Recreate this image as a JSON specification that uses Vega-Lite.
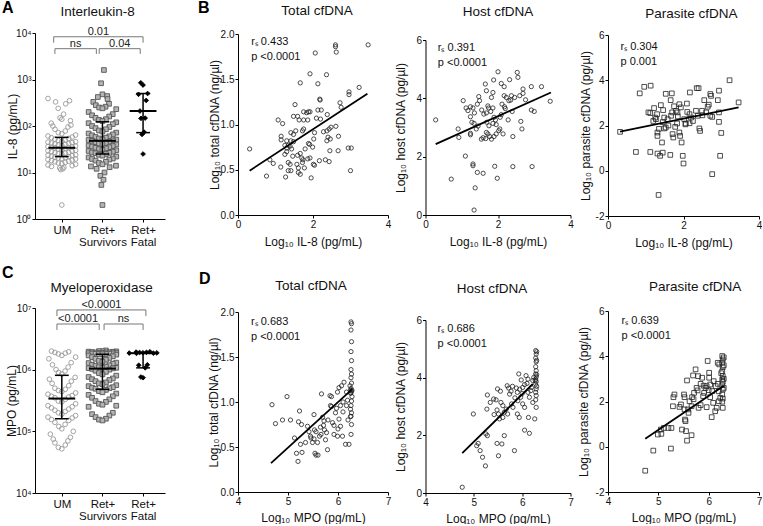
{
"$schema": "https://vega.github.io/schema/vega-lite/v6.json",
"padding": {"left": 2, "top": 0, "right": 0, "bottom": 0},
"config": {
 "font": "Liberation Sans",
 "view": {"stroke": null},
 "axis": {"grid": false, "domainColor": "#000", "tickColor": "#000", "labelColor": "#111", "titleColor": "#111", "labelFontSize": 10, "titleFontSize": 12, "titleFontWeight": "normal", "tickSize": 3, "labelPadding": 1, "labelFlush": false, "labelOverlap": false, "domainWidth": 1, "tickWidth": 1},
 "text": {"color": "#111"}
},
"datasets": {
 "il8": [
  {"g":1,"v":390},{"g":1,"v":350},{"g":1,"v":330},{"g":1,"v":300},{"g":1,"v":240},{"g":1,"v":180},{"g":1,"v":150},{"g":1,"v":140},{"g":1,"v":130},{"g":1,"v":115},{"g":1,"v":105},{"g":1,"v":100},{"g":1,"v":95},{"g":1,"v":85},{"g":1,"v":78},{"g":1,"v":72},{"g":1,"v":68},{"g":1,"v":64},{"g":1,"v":61},{"g":1,"v":58},
  {"g":1,"v":56},{"g":1,"v":54},{"g":1,"v":52},{"g":1,"v":50},{"g":1,"v":49},{"g":1,"v":47},{"g":1,"v":46},{"g":1,"v":45},{"g":1,"v":44},{"g":1,"v":43},{"g":1,"v":42},{"g":1,"v":41},{"g":1,"v":40},{"g":1,"v":39},{"g":1,"v":38},{"g":1,"v":37},{"g":1,"v":36},{"g":1,"v":35.5},{"g":1,"v":35},{"g":1,"v":34.5},
  {"g":1,"v":34},{"g":1,"v":33},{"g":1,"v":32},{"g":1,"v":31},{"g":1,"v":30},{"g":1,"v":29.5},{"g":1,"v":29},{"g":1,"v":28},{"g":1,"v":27},{"g":1,"v":26.5},{"g":1,"v":26},{"g":1,"v":25.5},{"g":1,"v":25},{"g":1,"v":24},{"g":1,"v":23.5},{"g":1,"v":23},{"g":1,"v":22.5},{"g":1,"v":22},{"g":1,"v":21.5},{"g":1,"v":21},
  {"g":1,"v":20.5},{"g":1,"v":20},{"g":1,"v":19.5},{"g":1,"v":19},{"g":1,"v":18.5},{"g":1,"v":18},{"g":1,"v":17.5},{"g":1,"v":17},{"g":1,"v":16.5},{"g":1,"v":16},{"g":1,"v":15.5},{"g":1,"v":15},{"g":1,"v":14.5},{"g":1,"v":14},{"g":1,"v":13.5},{"g":1,"v":13},{"g":1,"v":12.5},{"g":1,"v":12},{"g":1,"v":11.5},{"g":1,"v":2},
  {"g":2,"v":1600},{"g":2,"v":830},{"g":2,"v":480},{"g":2,"v":440},{"g":2,"v":420},{"g":2,"v":380},{"g":2,"v":330},{"g":2,"v":300},{"g":2,"v":280},{"g":2,"v":260},{"g":2,"v":250},{"g":2,"v":240},{"g":2,"v":230},{"g":2,"v":200},{"g":2,"v":180},{"g":2,"v":170},{"g":2,"v":160},{"g":2,"v":150},{"g":2,"v":140},{"g":2,"v":135},{"g":2,"v":128},
  {"g":2,"v":120},{"g":2,"v":115},{"g":2,"v":110},{"g":2,"v":100},{"g":2,"v":95},{"g":2,"v":90},{"g":2,"v":85},{"g":2,"v":80},{"g":2,"v":76},{"g":2,"v":72},{"g":2,"v":69},{"g":2,"v":66},{"g":2,"v":63},{"g":2,"v":60},{"g":2,"v":58},{"g":2,"v":56},{"g":2,"v":54},{"g":2,"v":52},{"g":2,"v":51},{"g":2,"v":50},{"g":2,"v":49},
  {"g":2,"v":48},{"g":2,"v":46},{"g":2,"v":45},{"g":2,"v":43},{"g":2,"v":42},{"g":2,"v":41},{"g":2,"v":40},{"g":2,"v":38},{"g":2,"v":37},{"g":2,"v":36},{"g":2,"v":35},{"g":2,"v":34},{"g":2,"v":33},{"g":2,"v":32},{"g":2,"v":31},{"g":2,"v":30},{"g":2,"v":29},{"g":2,"v":28},{"g":2,"v":27},{"g":2,"v":26.5},{"g":2,"v":26},
  {"g":2,"v":25},{"g":2,"v":24},{"g":2,"v":23},{"g":2,"v":22},{"g":2,"v":21},{"g":2,"v":20},{"g":2,"v":19.5},{"g":2,"v":19},{"g":2,"v":18},{"g":2,"v":17},{"g":2,"v":16},{"g":2,"v":15},{"g":2,"v":14},{"g":2,"v":13.5},{"g":2,"v":13},{"g":2,"v":12},{"g":2,"v":10},{"g":2,"v":8.5},{"g":2,"v":7},{"g":2,"v":5.4},{"g":2,"v":2},
  {"g":3,"v":850},{"g":3,"v":760},{"g":3,"v":500},{"g":3,"v":480},{"g":3,"v":355},{"g":3,"v":210},{"g":3,"v":148},{"g":3,"v":146},{"g":3,"v":74},{"g":3,"v":66},{"g":3,"v":25}
 ],
 "mpo": [
  {"g":1,"v":2.0e6},{"g":1,"v":1.95e6},{"g":1,"v":1.9e6},{"g":1,"v":1.85e6},{"g":1,"v":1.8e6},{"g":1,"v":1.7e6},{"g":1,"v":1.6e6},{"g":1,"v":1.5e6},{"g":1,"v":1.3e6},{"g":1,"v":1.2e6},{"g":1,"v":1.1e6},{"g":1,"v":1.0e6},{"g":1,"v":9.5e5},{"g":1,"v":9e5},{"g":1,"v":8.5e5},
  {"g":1,"v":7.5e5},{"g":1,"v":7e5},{"g":1,"v":6.5e5},{"g":1,"v":6e5},{"g":1,"v":5.5e5},{"g":1,"v":5e5},{"g":1,"v":4.8e5},{"g":1,"v":4.6e5},{"g":1,"v":4.4e5},{"g":1,"v":4.2e5},{"g":1,"v":4.0e5},{"g":1,"v":3.8e5},{"g":1,"v":3.7e5},{"g":1,"v":3.6e5},{"g":1,"v":3.5e5},
  {"g":1,"v":3.3e5},{"g":1,"v":3.1e5},{"g":1,"v":3.0e5},{"g":1,"v":2.8e5},{"g":1,"v":2.6e5},{"g":1,"v":2.5e5},{"g":1,"v":2.4e5},{"g":1,"v":2.3e5},{"g":1,"v":2.2e5},{"g":1,"v":2.1e5},{"g":1,"v":2.0e5},{"g":1,"v":1.9e5},{"g":1,"v":1.8e5},{"g":1,"v":1.7e5},{"g":1,"v":1.65e5},
  {"g":1,"v":1.55e5},{"g":1,"v":1.5e5},{"g":1,"v":1.4e5},{"g":1,"v":1.3e5},{"g":1,"v":1.2e5},{"g":1,"v":1.1e5},{"g":1,"v":1.0e5},{"g":1,"v":9e4},{"g":1,"v":8e4},{"g":1,"v":7.5e4},{"g":1,"v":7e4},{"g":1,"v":6.5e4},{"g":1,"v":6e4},{"g":1,"v":5.5e4},{"g":1,"v":5.2e4},
  {"g":2,"v":2.05e6},{"g":2,"v":2.0e6},{"g":2,"v":2.0e6},{"g":2,"v":1.98e6},{"g":2,"v":1.96e6},{"g":2,"v":1.95e6},{"g":2,"v":1.93e6},{"g":2,"v":1.92e6},{"g":2,"v":1.9e6},{"g":2,"v":1.9e6},{"g":2,"v":1.88e6},{"g":2,"v":1.87e6},{"g":2,"v":1.86e6},{"g":2,"v":1.85e6},{"g":2,"v":1.84e6},{"g":2,"v":1.83e6},{"g":2,"v":1.82e6},{"g":2,"v":1.81e6},{"g":2,"v":1.8e6},{"g":2,"v":1.79e6},{"g":2,"v":1.78e6},
  {"g":2,"v":1.75e6},{"g":2,"v":1.7e6},{"g":2,"v":1.65e6},{"g":2,"v":1.6e6},{"g":2,"v":1.55e6},{"g":2,"v":1.5e6},{"g":2,"v":1.45e6},{"g":2,"v":1.4e6},{"g":2,"v":1.35e6},{"g":2,"v":1.3e6},{"g":2,"v":1.28e6},{"g":2,"v":1.25e6},{"g":2,"v":1.2e6},{"g":2,"v":1.18e6},{"g":2,"v":1.15e6},{"g":2,"v":1.12e6},{"g":2,"v":1.1e6},{"g":2,"v":1.08e6},{"g":2,"v":1.07e6},{"g":2,"v":1.06e6},{"g":2,"v":1.05e6},
  {"g":2,"v":1.03e6},{"g":2,"v":1.0e6},{"g":2,"v":9.6e5},{"g":2,"v":9.2e5},{"g":2,"v":8.8e5},{"g":2,"v":8.4e5},{"g":2,"v":8e5},{"g":2,"v":7.6e5},{"g":2,"v":7.2e5},{"g":2,"v":7e5},{"g":2,"v":6.8e5},{"g":2,"v":6.5e5},{"g":2,"v":6.2e5},{"g":2,"v":6e5},{"g":2,"v":5.8e5},{"g":2,"v":5.6e5},{"g":2,"v":5.4e5},{"g":2,"v":5.2e5},{"g":2,"v":5.1e5},{"g":2,"v":5e5},{"g":2,"v":4.9e5},
  {"g":2,"v":4.7e5},{"g":2,"v":4.5e5},{"g":2,"v":4.3e5},{"g":2,"v":4.1e5},{"g":2,"v":3.9e5},{"g":2,"v":3.7e5},{"g":2,"v":3.5e5},{"g":2,"v":3.3e5},{"g":2,"v":3.1e5},{"g":2,"v":3.0e5},{"g":2,"v":2.8e5},{"g":2,"v":2.7e5},{"g":2,"v":2.6e5},{"g":2,"v":2.5e5},{"g":2,"v":2.0e5},{"g":2,"v":1.9e5},{"g":2,"v":1.8e5},{"g":2,"v":1.7e5},{"g":2,"v":1.6e5},{"g":2,"v":1.55e5},{"g":2,"v":1.5e5},
  {"g":3,"v":1.95e6},{"g":3,"v":1.93e6},{"g":3,"v":1.91e6},{"g":3,"v":1.9e6},{"g":3,"v":1.88e6},{"g":3,"v":1.87e6},{"g":3,"v":1.86e6},{"g":3,"v":1.85e6},{"g":3,"v":1.84e6},{"g":3,"v":1.2e6},{"g":3,"v":1.18e6},{"g":3,"v":1.07e6},{"g":3,"v":7.6e5},{"g":3,"v":7.4e5}
 ],
 "b1": [
  {"x":0.31,"y":0.73},{"x":2.6,"y":1.88},{"x":2.6,"y":1.86},{"x":2.62,"y":1.8},{"x":3.47,"y":1.88},{"x":2.06,"y":1.79},{"x":1.92,"y":1.56},{"x":1.66,"y":1.46},{"x":2.13,"y":1.45},{"x":2.36,"y":1.55},{"x":3.23,"y":1.41},{"x":2.96,"y":1.36},{"x":2.96,"y":1.33},{"x":1.52,"y":1.22},{"x":2.18,"y":1.28},{"x":2.19,"y":1.27},{"x":2.72,"y":1.24},{"x":2.75,"y":1.19},{"x":1.07,"y":1.05},{"x":1.19,"y":1.01},{"x":1.75,"y":1.14},{"x":1.83,"y":1.13},{"x":1.88,"y":1.14},{"x":1.92,"y":1.14},{"x":1.48,"y":1.09},{"x":1.59,"y":1.09},{"x":1.63,"y":1.05},{"x":1.75,"y":1.05},{"x":1.86,"y":1.05},{"x":2.13,"y":1.16},{"x":2.22,"y":1.16},{"x":2.09,"y":1.07},{"x":2.2,"y":1.06},{"x":2.38,"y":1.11},{"x":2.61,"y":0.98},{"x":2.48,"y":0.97},{"x":2.43,"y":0.95},{"x":2.37,"y":0.93},{"x":2.28,"y":0.92},{"x":2.04,"y":0.91},{"x":1.75,"y":0.95},{"x":1.72,"y":0.93},{"x":1.54,"y":0.93},{"x":1.41,"y":0.91},{"x":1.48,"y":0.89},{"x":2.02,"y":0.84},{"x":1.15,"y":0.87},{"x":1.15,"y":0.83},{"x":1.3,"y":0.82},{"x":1.41,"y":0.82},{"x":1.48,"y":0.81},{"x":1.34,"y":0.77},{"x":1.39,"y":0.76},{"x":1.3,"y":0.74},{"x":1.43,"y":0.73},{"x":1.88,"y":0.79},{"x":1.91,"y":0.78},{"x":2.4,"y":0.86},{"x":2.37,"y":0.82},{"x":2.46,"y":0.84},{"x":2.68,"y":0.87},{"x":2.94,"y":0.74},{"x":3.02,"y":0.74},{"x":2.67,"y":0.71},{"x":2.45,"y":0.71},{"x":1.79,"y":0.73},{"x":1.99,"y":0.75},{"x":1.66,"y":0.68},{"x":1.59,"y":0.66},{"x":1.86,"y":0.62},{"x":1.92,"y":0.63},{"x":1.7,"y":0.63},{"x":1.73,"y":0.61},{"x":1.25,"y":0.67},{"x":1.46,"y":0.65},{"x":0.85,"y":0.61},{"x":0.94,"y":0.57},{"x":1.14,"y":0.53},{"x":1.34,"y":0.58},{"x":1.39,"y":0.56},{"x":1.57,"y":0.56},{"x":1.61,"y":0.52},{"x":1.72,"y":0.58},{"x":2.01,"y":0.56},{"x":2.04,"y":0.55},{"x":2.17,"y":0.6},{"x":2.33,"y":0.61},{"x":2.43,"y":0.59},{"x":1.41,"y":0.49},{"x":1.61,"y":0.47},{"x":1.66,"y":0.45},{"x":1.34,"y":0.49},{"x":3.0,"y":0.49},{"x":0.76,"y":0.43},{"x":1.27,"y":0.42},{"x":1.95,"y":0.41},{"x":1.77,"y":0.52},{"x":1.25,"y":0.77},{"x":1.3,"y":0.7}
 ],
 "b1fit": [{"x":0.31,"y":0.49},{"x":3.45,"y":1.34}],
 "h1": [
  {"x":0.28,"y":3.26},{"x":0.71,"y":1.23},{"x":0.92,"y":2.66},{"x":0.9,"y":2.95},{"x":1.04,"y":3.92},{"x":1.1,"y":2.02},{"x":1.12,"y":3.67},{"x":1.17,"y":3.58},{"x":1.24,"y":3.37},{"x":1.24,"y":3.71},{"x":1.31,"y":3.67},{"x":1.24,"y":2.8},{"x":1.24,"y":2.75},{"x":1.31,"y":1.75},{"x":1.31,"y":1.69},{"x":1.28,"y":3.18},{"x":1.34,"y":3.14},{"x":1.37,"y":0.93},{"x":1.34,"y":0.17},{"x":1.43,"y":1.46},{"x":1.4,"y":2.95},{"x":1.45,"y":3.05},{"x":1.43,"y":3.8},{"x":1.49,"y":3.92},{"x":1.47,"y":4.06},{"x":1.54,"y":2.6},{"x":1.59,"y":2.65},{"x":1.66,"y":2.62},{"x":1.59,"y":1.43},{"x":1.65,"y":4.49},{"x":1.68,"y":4.26},{"x":1.72,"y":3.74},{"x":1.74,"y":3.67},{"x":1.61,"y":3.46},{"x":1.68,"y":3.5},{"x":1.69,"y":3.18},{"x":1.75,"y":3.06},{"x":1.68,"y":2.83},{"x":1.72,"y":2.78},{"x":1.77,"y":2.69},{"x":1.86,"y":4.2},{"x":1.82,"y":4.03},{"x":1.88,"y":4.63},{"x":1.86,"y":3.67},{"x":1.89,"y":3.35},{"x":1.93,"y":3.26},{"x":1.86,"y":3.14},{"x":1.95,"y":3.1},{"x":1.89,"y":2.69},{"x":1.95,"y":2.78},{"x":1.82,"y":2.6},{"x":1.91,"y":1.67},{"x":1.98,"y":1.26},{"x":2.0,"y":4.91},{"x":2.02,"y":2.89},{"x":2.05,"y":2.95},{"x":2.06,"y":3.35},{"x":2.09,"y":3.44},{"x":2.09,"y":4.51},{"x":2.17,"y":4.4},{"x":2.11,"y":3.8},{"x":2.18,"y":3.71},{"x":2.17,"y":4.09},{"x":2.23,"y":4.03},{"x":2.14,"y":2.78},{"x":2.28,"y":3.26},{"x":2.3,"y":3.92},{"x":2.35,"y":3.94},{"x":2.32,"y":4.64},{"x":2.37,"y":4.09},{"x":2.46,"y":4.03},{"x":2.39,"y":3.55},{"x":2.41,"y":2.69},{"x":2.41,"y":1.66},{"x":2.53,"y":4.89},{"x":2.55,"y":4.72},{"x":2.6,"y":4.09},{"x":2.69,"y":4.17},{"x":2.69,"y":4.32},{"x":2.63,"y":3.21},{"x":2.66,"y":2.95},{"x":2.76,"y":3.95},{"x":2.92,"y":4.4},{"x":2.92,"y":3.6},{"x":3.0,"y":3.55},{"x":2.94,"y":1.66},{"x":3.2,"y":4.4},{"x":3.44,"y":3.9},{"x":1.55,"y":3.6},{"x":1.8,"y":3.55},{"x":2.2,"y":3.65},{"x":1.35,"y":3.5}
 ],
 "h1fit": [{"x":0.28,"y":2.43},{"x":3.46,"y":4.2}],
 "p1": [
  {"x":0.32,"y":1.72},{"x":0.74,"y":0.83},{"x":0.84,"y":3.42},{"x":0.96,"y":3.71},{"x":1.12,"y":2.55},{"x":1.12,"y":0.83},{"x":1.13,"y":3.76},{"x":1.22,"y":2.77},{"x":1.25,"y":2.35},{"x":1.27,"y":2.28},{"x":1.3,"y":2.5},{"x":1.31,"y":1.69},{"x":1.31,"y":1.54},{"x":1.31,"y":0.76},{"x":1.38,"y":0.66},{"x":1.34,"y":-1.07},{"x":1.4,"y":2.9},{"x":1.46,"y":2.68},{"x":1.49,"y":2.35},{"x":1.43,"y":1.25},{"x":1.45,"y":0.8},{"x":1.49,"y":1.87},{"x":1.53,"y":1.91},{"x":1.58,"y":2.28},{"x":1.67,"y":2.43},{"x":1.7,"y":2.58},{"x":1.53,"y":3.4},{"x":1.69,"y":3.42},{"x":1.65,"y":0.7},{"x":1.66,"y":3.12},{"x":1.71,"y":1.62},{"x":1.73,"y":1.47},{"x":1.78,"y":1.94},{"x":1.83,"y":2.09},{"x":1.8,"y":2.65},{"x":1.84,"y":2.58},{"x":1.89,"y":2.94},{"x":1.93,"y":2.8},{"x":1.89,"y":1.69},{"x":1.91,"y":1.54},{"x":1.95,"y":1.25},{"x":1.98,"y":0.66},{"x":2.0,"y":0.32},{"x":2.02,"y":2.28},{"x":2.06,"y":2.09},{"x":2.05,"y":2.05},{"x":2.09,"y":2.97},{"x":2.17,"y":3.46},{"x":2.16,"y":2.5},{"x":2.2,"y":2.35},{"x":2.16,"y":2.1},{"x":2.33,"y":2.65},{"x":2.38,"y":2.43},{"x":2.35,"y":3.65},{"x":2.4,"y":3.65},{"x":2.42,"y":1.87},{"x":2.44,"y":1.76},{"x":2.49,"y":2.65},{"x":2.6,"y":2.58},{"x":2.55,"y":3.12},{"x":2.64,"y":2.83},{"x":2.67,"y":2.92},{"x":2.71,"y":3.39},{"x":2.73,"y":3.31},{"x":2.76,"y":-0.15},{"x":2.71,"y":2.43},{"x":2.76,"y":2.38},{"x":2.91,"y":3.12},{"x":2.94,"y":3.54},{"x":2.94,"y":2.58},{"x":2.94,"y":2.16},{"x":2.97,"y":0.66},{"x":3.0,"y":1.67},{"x":3.22,"y":4.0},{"x":3.46,"y":3.02},{"x":1.07,"y":2.58},{"x":1.2,"y":2.2},{"x":1.6,"y":2.0},{"x":2.25,"y":2.2},{"x":1.75,"y":2.85},{"x":2.1,"y":2.6},{"x":1.45,"y":2.15},{"x":2.5,"y":2.45},{"x":1.35,"y":1.85},{"x":1.85,"y":2.4}
 ],
 "p1fit": [{"x":0.32,"y":1.73},{"x":3.46,"y":2.8}],
 "d1": [
  {"x":4.68,"y":0.97},{"x":4.98,"y":1.06},{"x":4.75,"y":0.76},{"x":4.89,"y":0.8},{"x":5.05,"y":0.8},{"x":5.23,"y":0.9},{"x":5.21,"y":0.78},{"x":5.27,"y":0.75},{"x":5.13,"y":0.6},{"x":5.17,"y":0.43},{"x":5.2,"y":0.34},{"x":5.28,"y":0.44},{"x":5.25,"y":0.53},{"x":5.39,"y":0.73},{"x":5.42,"y":0.67},{"x":5.46,"y":0.6},{"x":5.49,"y":0.55},{"x":5.52,"y":0.86},{"x":5.52,"y":0.59},{"x":5.53,"y":0.69},{"x":5.56,"y":0.67},{"x":5.59,"y":0.55},{"x":5.6,"y":0.41},{"x":5.56,"y":0.41},{"x":5.54,"y":0.43},{"x":5.63,"y":0.62},{"x":5.66,"y":0.64},{"x":5.67,"y":1.09},{"x":5.69,"y":0.83},{"x":5.72,"y":0.79},{"x":5.71,"y":0.74},{"x":5.73,"y":0.69},{"x":5.77,"y":0.66},{"x":5.79,"y":0.47},{"x":5.84,"y":1.07},{"x":5.87,"y":1.06},{"x":5.85,"y":0.96},{"x":5.87,"y":0.95},{"x":5.89,"y":0.77},{"x":5.92,"y":0.74},{"x":5.92,"y":0.64},{"x":5.99,"y":0.62},{"x":5.95,"y":0.88},{"x":5.97,"y":0.93},{"x":6.02,"y":0.81},{"x":6.05,"y":0.73},{"x":5.99,"y":1.11},{"x":6.02,"y":1.16},{"x":6.07,"y":1.18},{"x":6.12,"y":1.22},{"x":6.05,"y":0.96},{"x":6.1,"y":0.89},{"x":6.09,"y":0.62},{"x":6.15,"y":0.53},{"x":6.17,"y":1.11},{"x":6.19,"y":1.02},{"x":6.17,"y":0.96},{"x":6.22,"y":0.53},{"x":6.24,"y":1.18},{"x":6.25,"y":1.1},{"x":6.25,"y":0.92},{"x":6.25,"y":0.84},{"x":6.26,"y":1.89},{"x":6.27,"y":1.87},{"x":6.26,"y":1.8},{"x":6.27,"y":1.67},{"x":6.26,"y":1.56},{"x":6.27,"y":1.46},{"x":6.26,"y":1.36},{"x":6.27,"y":1.31},{"x":6.26,"y":1.27},{"x":6.27,"y":1.21},{"x":6.26,"y":1.15},{"x":6.27,"y":1.12},{"x":6.26,"y":1.1},{"x":6.28,"y":1.06},{"x":6.27,"y":1.01},{"x":6.26,"y":0.96},{"x":6.27,"y":0.88},{"x":6.26,"y":0.84},{"x":6.27,"y":0.75},{"x":6.26,"y":0.64},{"x":6.28,"y":1.13},{"x":6.25,"y":1.13},{"x":6.1,"y":1.0},{"x":5.8,"y":0.8},{"x":5.65,"y":0.72},{"x":5.45,"y":0.62},{"x":6.2,"y":0.8},{"x":6.0,"y":0.7},{"x":5.75,"y":0.58},{"x":5.35,"y":0.55}
 ],
 "d1fit": [{"x":4.66,"y":0.32},{"x":6.28,"y":1.14}],
 "h2": [
  {"x":4.76,"y":0.2},{"x":4.99,"y":2.74},{"x":5.06,"y":1.64},{"x":5.09,"y":1.72},{"x":5.13,"y":1.47},{"x":5.18,"y":1.24},{"x":5.24,"y":0.94},{"x":5.25,"y":2.05},{"x":5.28,"y":1.99},{"x":5.27,"y":2.91},{"x":5.28,"y":3.4},{"x":5.34,"y":3.14},{"x":5.41,"y":3.26},{"x":5.46,"y":3.23},{"x":5.42,"y":2.72},{"x":5.48,"y":2.88},{"x":5.51,"y":2.74},{"x":5.49,"y":3.61},{"x":5.55,"y":3.53},{"x":5.51,"y":1.29},{"x":5.48,"y":1.72},{"x":5.58,"y":1.7},{"x":5.53,"y":2.57},{"x":5.6,"y":2.62},{"x":5.56,"y":3.14},{"x":5.6,"y":3.03},{"x":5.63,"y":1.99},{"x":5.63,"y":2.8},{"x":5.67,"y":2.91},{"x":5.69,"y":3.72},{"x":5.72,"y":3.64},{"x":5.7,"y":2.74},{"x":5.74,"y":3.43},{"x":5.77,"y":3.53},{"x":5.78,"y":3.09},{"x":5.81,"y":2.97},{"x":5.84,"y":1.47},{"x":5.88,"y":3.64},{"x":5.9,"y":3.49},{"x":5.9,"y":2.74},{"x":5.94,"y":2.62},{"x":5.93,"y":4.13},{"x":5.98,"y":3.92},{"x":5.91,"y":3.2},{"x":5.97,"y":3.32},{"x":6.01,"y":3.66},{"x":6.05,"y":3.76},{"x":6.01,"y":3.09},{"x":6.05,"y":2.97},{"x":6.05,"y":2.18},{"x":6.08,"y":4.07},{"x":6.12,"y":3.95},{"x":6.12,"y":3.49},{"x":6.15,"y":3.32},{"x":6.15,"y":2.07},{"x":6.13,"y":2.62},{"x":6.19,"y":3.66},{"x":6.22,"y":3.14},{"x":6.22,"y":3.9},{"x":6.24,"y":4.01},{"x":6.26,"y":2.57},{"x":6.28,"y":4.94},{"x":6.29,"y":4.82},{"x":6.28,"y":4.68},{"x":6.29,"y":4.55},{"x":6.28,"y":4.38},{"x":6.29,"y":4.24},{"x":6.28,"y":4.13},{"x":6.29,"y":4.03},{"x":6.28,"y":3.95},{"x":6.29,"y":3.87},{"x":6.28,"y":3.78},{"x":6.29,"y":3.61},{"x":6.28,"y":3.49},{"x":6.29,"y":3.38},{"x":6.28,"y":3.23},{"x":6.29,"y":2.97},{"x":6.3,"y":4.9},{"x":6.3,"y":4.6},{"x":6.3,"y":4.1},{"x":6.3,"y":3.7},{"x":6.27,"y":3.9},{"x":6.0,"y":3.45},{"x":5.85,"y":3.3},{"x":5.95,"y":3.6},{"x":6.1,"y":3.8},{"x":6.18,"y":3.55},{"x":5.8,"y":3.7}
 ],
 "h2fit": [{"x":4.76,"y":1.38},{"x":6.22,"y":3.78}],
 "p2": [
  {"x":4.74,"y":-1.06},{"x":4.9,"y":-0.17},{"x":4.99,"y":0.54},{"x":5.05,"y":0.76},{"x":5.06,"y":0.57},{"x":5.11,"y":0.83},{"x":5.2,"y":0.83},{"x":5.25,"y":-0.08},{"x":5.26,"y":0.83},{"x":5.29,"y":1.79},{"x":5.3,"y":2.19},{"x":5.32,"y":2.31},{"x":5.42,"y":1.76},{"x":5.45,"y":1.87},{"x":5.47,"y":0.76},{"x":5.51,"y":2.31},{"x":5.52,"y":2.19},{"x":5.52,"y":1.65},{"x":5.53,"y":1.2},{"x":5.54,"y":1.13},{"x":5.55,"y":0.69},{"x":5.57,"y":0.27},{"x":5.59,"y":1.65},{"x":5.6,"y":1.5},{"x":5.62,"y":2.01},{"x":5.66,"y":1.79},{"x":5.57,"y":2.93},{"x":5.66,"y":0.51},{"x":5.67,"y":2.19},{"x":5.71,"y":2.38},{"x":5.69,"y":3.15},{"x":5.74,"y":3.42},{"x":5.79,"y":3.12},{"x":5.76,"y":2.6},{"x":5.78,"y":2.49},{"x":5.8,"y":1.72},{"x":5.84,"y":1.84},{"x":5.84,"y":2.78},{"x":5.87,"y":3.05},{"x":5.89,"y":2.24},{"x":5.91,"y":2.38},{"x":5.94,"y":2.6},{"x":5.96,"y":2.68},{"x":5.96,"y":1.75},{"x":5.98,"y":3.79},{"x":6.01,"y":3.27},{"x":6.01,"y":3.05},{"x":6.03,"y":2.75},{"x":6.03,"y":2.19},{"x":6.06,"y":1.31},{"x":6.07,"y":2.46},{"x":6.09,"y":1.94},{"x":6.13,"y":1.57},{"x":6.16,"y":1.72},{"x":6.14,"y":2.68},{"x":6.18,"y":2.78},{"x":6.18,"y":3.71},{"x":6.21,"y":3.64},{"x":6.2,"y":2.01},{"x":6.23,"y":2.16},{"x":6.27,"y":4.01},{"x":6.28,"y":3.86},{"x":6.27,"y":3.71},{"x":6.28,"y":3.52},{"x":6.27,"y":3.34},{"x":6.28,"y":3.12},{"x":6.27,"y":2.97},{"x":6.28,"y":2.87},{"x":6.27,"y":2.72},{"x":6.28,"y":2.53},{"x":6.27,"y":2.31},{"x":6.28,"y":2.13},{"x":6.27,"y":1.99},{"x":6.28,"y":1.72},{"x":6.3,"y":3.95},{"x":6.3,"y":3.6},{"x":6.3,"y":3.0},{"x":6.3,"y":2.6},{"x":6.25,"y":3.25},{"x":6.1,"y":2.9},{"x":5.9,"y":2.7},{"x":6.0,"y":2.5},{"x":6.2,"y":2.45},{"x":5.7,"y":2.1}
 ],
 "p2fit": [{"x":4.74,"y":0.35},{"x":6.3,"y":2.7}]
},
"spacing": 32,
"hconcat": [
 {
  "vconcat": [
   {
    "width": 130, "height": 186,
    "layer": [
     {
      "data": {"name": "il8"},
      "transform": [
       {"calculate": "log(datum.v)/LN10", "as": "lv"},
       {"window": [{"op": "row_number", "as": "rk"}, {"op": "min", "field": "lv", "as": "lo"}, {"op": "max", "field": "lv", "as": "hi"}], "groupby": ["g"], "sort": [{"field": "lv", "order": "ascending"}], "frame": [-4, 4]},
       {"calculate": "(datum.rk - 1) % 9", "as": "c"},
       {"calculate": "datum.g + (datum.c % 2 == 0 ? 1 : -1) * ceil(datum.c / 2) * 0.085 * clamp(0.25 / max(datum.hi - datum.lo, 0.001), 0.3, 1)", "as": "xp"}
      ],
      "mark": {"type": "point", "opacity": 1, "size": 22, "strokeWidth": 0.9},
      "encoding": {
       "x": {"field": "xp", "type": "quantitative", "scale": {"domain": [0.34, 3.54], "nice": false, "zero": false}, "axis": {"values": [1, 2, 3], "title": null, "labelExpr": "datum.value == 1 ? 'UM' : datum.value == 2 ? ['Ret+', 'Survivors'] : ['Ret+', 'Fatal']", "labelFontSize": 11.5, "labelLineHeight": 12, "labelPadding": 2}},
       "y": {"field": "v", "type": "quantitative", "scale": {"type": "log", "domain": [1, 10000], "nice": false}, "axis": {"values": [1, 10, 100, 1000, 10000], "labelExpr": "'10' + ['⁰','¹','²','³','⁴','⁵','⁶','⁷'][round(log(datum.value)/LN10)]", "title": "IL-8 (pg/mL)", "titleX": -23, "titleBaseline": "middle"}},
       "shape": {"field": "g", "type": "nominal", "scale": {"domain": [1, 2, 3], "range": ["circle", "square", "diamond"]}, "legend": null},
       "fill": {"field": "g", "type": "nominal", "scale": {"domain": [1, 2, 3], "range": ["transparent", "#b4b4b4", "#000000"]}, "legend": null},
       "stroke": {"field": "g", "type": "nominal", "scale": {"domain": [1, 2, 3], "range": ["#999999", "#555555", "#000000"]}, "legend": null}
      }
     },
     {
      "data": {"values": [{"g": 1, "med": 34, "q1": 22, "q3": 57}, {"g": 2, "med": 48, "q1": 25, "q3": 123}, {"g": 3, "med": 210, "q1": 72, "q3": 500}]},
      "transform": [{"calculate": "datum.g - 0.33", "as": "m0"}, {"calculate": "datum.g + 0.33", "as": "m1"}, {"calculate": "datum.g - 0.17", "as": "w0"}, {"calculate": "datum.g + 0.17", "as": "w1"}],
      "layer": [
       {"mark": {"type": "rule", "strokeWidth": 2, "color": "#000"}, "encoding": {"x": {"field": "m0", "type": "quantitative"}, "x2": {"field": "m1"}, "y": {"field": "med", "type": "quantitative"}}},
       {"mark": {"type": "rule", "strokeWidth": 1.5, "color": "#000"}, "encoding": {"x": {"field": "w0", "type": "quantitative"}, "x2": {"field": "w1"}, "y": {"field": "q1", "type": "quantitative"}}},
       {"mark": {"type": "rule", "strokeWidth": 1.5, "color": "#000"}, "encoding": {"x": {"field": "w0", "type": "quantitative"}, "x2": {"field": "w1"}, "y": {"field": "q3", "type": "quantitative"}}},
       {"mark": {"type": "rule", "strokeWidth": 1.5, "color": "#000"}, "encoding": {"x": {"field": "g", "type": "quantitative"}, "y": {"field": "q1", "type": "quantitative"}, "y2": {"field": "q3"}}}
      ]
     },
     {
      "data": {"values": [{"a": 0.8, "b": 3.0, "lv": 8300, "lt": 6200, "t": "0.01"}, {"a": 0.83, "b": 1.85, "lv": 4600, "lt": 3550, "t": "ns"}, {"a": 1.92, "b": 2.93, "lv": 4600, "lt": 3550, "t": "0.04"}]},
      "transform": [{"calculate": "(datum.a + datum.b) / 2", "as": "mid"}],
      "layer": [
       {"mark": {"type": "rule", "color": "#777", "strokeWidth": 1}, "encoding": {"x": {"field": "a", "type": "quantitative"}, "x2": {"field": "b"}, "y": {"field": "lv", "type": "quantitative"}}},
       {"mark": {"type": "rule", "color": "#777", "strokeWidth": 1}, "encoding": {"x": {"field": "a", "type": "quantitative"}, "y": {"field": "lv", "type": "quantitative"}, "y2": {"field": "lt"}}},
       {"mark": {"type": "rule", "color": "#777", "strokeWidth": 1}, "encoding": {"x": {"field": "b", "type": "quantitative"}, "y": {"field": "lv", "type": "quantitative"}, "y2": {"field": "lt"}}},
       {"mark": {"type": "text", "fontSize": 11, "baseline": "alphabetic", "dy": -2, "color": "#222"}, "encoding": {"x": {"field": "mid", "type": "quantitative"}, "y": {"field": "lv", "type": "quantitative"}, "text": {"field": "t"}}}
      ]
     },
     {"data": {"values": [{}]}, "mark": {"type": "text", "align": "center", "baseline": "middle", "fontSize": 13.5}, "encoding": {"x": {"datum": 1.88}, "y": {"datum": 28970}, "text": {"value": "Interleukin-8"}}},
     {"data": {"values": [{}]}, "mark": {"type": "text", "align": "left", "baseline": "alphabetic", "fontSize": 16, "fontWeight": "bold", "color": "#000"}, "encoding": {"x": {"datum": -0.47}, "y": {"datum": 26900}, "text": {"value": "A"}}}
    ]
   },
   {
    "width": 130, "height": 185,
    "layer": [
     {
      "data": {"name": "mpo"},
      "transform": [
       {"calculate": "log(datum.v)/LN10", "as": "lv"},
       {"window": [{"op": "row_number", "as": "rk"}, {"op": "min", "field": "lv", "as": "lo"}, {"op": "max", "field": "lv", "as": "hi"}], "groupby": ["g"], "sort": [{"field": "lv", "order": "ascending"}], "frame": [-4, 4]},
       {"calculate": "(datum.rk - 1) % 9", "as": "c"},
       {"calculate": "datum.g + (datum.c % 2 == 0 ? 1 : -1) * ceil(datum.c / 2) * 0.085 * clamp(0.25 / max(datum.hi - datum.lo, 0.001), 0.3, 1)", "as": "xp"}
      ],
      "mark": {"type": "point", "opacity": 1, "size": 22, "strokeWidth": 0.9},
      "encoding": {
       "x": {"field": "xp", "type": "quantitative", "scale": {"domain": [0.34, 3.54], "nice": false, "zero": false}, "axis": {"values": [1, 2, 3], "title": null, "labelExpr": "datum.value == 1 ? 'UM' : datum.value == 2 ? ['Ret+', 'Survivors'] : ['Ret+', 'Fatal']", "labelFontSize": 11.5, "labelLineHeight": 12, "labelPadding": 2}},
       "y": {"field": "v", "type": "quantitative", "scale": {"type": "log", "domain": [10000, 10000000], "nice": false}, "axis": {"values": [10000, 100000, 1000000, 10000000], "labelExpr": "'10' + ['⁰','¹','²','³','⁴','⁵','⁶','⁷'][round(log(datum.value)/LN10)]", "title": "MPO (pg/mL)", "titleX": -24, "titleBaseline": "middle"}},
       "shape": {"field": "g", "type": "nominal", "scale": {"domain": [1, 2, 3], "range": ["circle", "square", "diamond"]}, "legend": null},
       "fill": {"field": "g", "type": "nominal", "scale": {"domain": [1, 2, 3], "range": ["transparent", "#b4b4b4", "#000000"]}, "legend": null},
       "stroke": {"field": "g", "type": "nominal", "scale": {"domain": [1, 2, 3], "range": ["#999999", "#555555", "#000000"]}, "legend": null}
      }
     },
     {
      "data": {"values": [{"g": 1, "med": 340000, "q1": 160000, "q3": 810000}, {"g": 2, "med": 1040000, "q1": 480000, "q3": 1780000}, {"g": 3, "med": 1850000, "q1": 1070000, "q3": 1850000}]},
      "transform": [{"calculate": "datum.g - 0.33", "as": "m0"}, {"calculate": "datum.g + 0.33", "as": "m1"}, {"calculate": "datum.g - 0.17", "as": "w0"}, {"calculate": "datum.g + 0.17", "as": "w1"}],
      "layer": [
       {"mark": {"type": "rule", "strokeWidth": 2, "color": "#000"}, "encoding": {"x": {"field": "m0", "type": "quantitative"}, "x2": {"field": "m1"}, "y": {"field": "med", "type": "quantitative"}}},
       {"mark": {"type": "rule", "strokeWidth": 1.5, "color": "#000"}, "encoding": {"x": {"field": "w0", "type": "quantitative"}, "x2": {"field": "w1"}, "y": {"field": "q1", "type": "quantitative"}}},
       {"mark": {"type": "rule", "strokeWidth": 1.5, "color": "#000"}, "encoding": {"x": {"field": "w0", "type": "quantitative"}, "x2": {"field": "w1"}, "y": {"field": "q3", "type": "quantitative"}}},
       {"mark": {"type": "rule", "strokeWidth": 1.5, "color": "#000"}, "encoding": {"x": {"field": "g", "type": "quantitative"}, "y": {"field": "q1", "type": "quantitative"}, "y2": {"field": "q3"}}}
      ]
     },
     {
      "data": {"values": [{"a": 0.88, "b": 3.07, "lv": 9300000, "lt": 7400000, "t": "<0.0001"}, {"a": 0.88, "b": 1.92, "lv": 5500000, "lt": 4400000, "t": "<0.0001"}, {"a": 2.04, "b": 3.0, "lv": 5500000, "lt": 4400000, "t": "ns"}]},
      "transform": [{"calculate": "(datum.a + datum.b) / 2", "as": "mid"}],
      "layer": [
       {"mark": {"type": "rule", "color": "#777", "strokeWidth": 1}, "encoding": {"x": {"field": "a", "type": "quantitative"}, "x2": {"field": "b"}, "y": {"field": "lv", "type": "quantitative"}}},
       {"mark": {"type": "rule", "color": "#777", "strokeWidth": 1}, "encoding": {"x": {"field": "a", "type": "quantitative"}, "y": {"field": "lv", "type": "quantitative"}, "y2": {"field": "lt"}}},
       {"mark": {"type": "rule", "color": "#777", "strokeWidth": 1}, "encoding": {"x": {"field": "b", "type": "quantitative"}, "y": {"field": "lv", "type": "quantitative"}, "y2": {"field": "lt"}}},
       {"mark": {"type": "text", "fontSize": 11, "baseline": "alphabetic", "dy": -2, "color": "#222"}, "encoding": {"x": {"field": "mid", "type": "quantitative"}, "y": {"field": "lv", "type": "quantitative"}, "text": {"field": "t"}}}
      ]
     },
     {"data": {"values": [{}]}, "mark": {"type": "text", "align": "center", "baseline": "middle", "fontSize": 13.5}, "encoding": {"x": {"datum": 1.98}, "y": {"datum": 21100000}, "text": {"value": "Myeloperoxidase"}}},
     {"data": {"values": [{}]}, "mark": {"type": "text", "align": "left", "baseline": "alphabetic", "fontSize": 16, "fontWeight": "bold", "color": "#000"}, "encoding": {"x": {"datum": -0.47}, "y": {"datum": 30600000}, "text": {"value": "C"}}}
    ]
   }
  ],
  "spacing": 89,
  "bounds": "flush"
 },
 {
  "columns": 3,
  "spacing": {"row": 92, "column": 37.5},
  "bounds": "flush",
  "concat": [
   {
    "width": 150, "height": 182,
    "layer": [
     {"data": {"name": "b1"}, "mark": {"type": "point", "shape": "circle", "size": 18, "strokeWidth": 0.8, "color": "#222", "opacity": 1},
      "encoding": {"x": {"field": "x", "type": "quantitative", "scale": {"domain": [0, 4], "nice": false}, "axis": {"values": [0, 1, 2, 3, 4], "title": "Log₁₀ IL-8 (pg/mL)", "titleY": 26, "titleBaseline": "middle"}},
                   "y": {"field": "y", "type": "quantitative", "scale": {"domain": [0, 2], "nice": false, "range": [182, 1]}, "axis": {"values": [0, 0.5, 1, 1.5, 2], "format": ".1f", "title": "Log₁₀ total cfDNA (ng/µl)", "titleX": -24, "titleBaseline": "middle"}}}},
     {"data": {"name": "b1fit"}, "mark": {"type": "line", "color": "#000", "strokeWidth": 1.8}, "encoding": {"x": {"field": "x", "type": "quantitative"}, "y": {"field": "y", "type": "quantitative"}}},
     {"data": {"values": [{}]}, "mark": {"type": "text", "align": "left", "baseline": "alphabetic", "fontSize": 11, "lineHeight": 15}, "encoding": {"x": {"datum": 0.35}, "y": {"datum": 1.88}, "text": {"value": ["rₛ 0.433", "p <0.0001"]}}},
     {"data": {"values": [{}]}, "mark": {"type": "text", "align": "center", "baseline": "middle", "fontSize": 13.5}, "encoding": {"x": {"datum": 2.107}, "y": {"datum": 2.249}, "text": {"value": "Total cfDNA"}}},
     {"data": {"values": [{}]}, "mark": {"type": "text", "align": "left", "baseline": "alphabetic", "fontSize": 16, "fontWeight": "bold", "color": "#000"}, "encoding": {"x": {"datum": -1.067}, "y": {"datum": 2.232}, "text": {"value": "B"}}}
    ]
   },
   {
    "width": 145, "height": 182,
    "layer": [
     {"data": {"name": "h1"}, "mark": {"type": "point", "shape": "circle", "size": 18, "strokeWidth": 0.8, "color": "#222", "opacity": 1},
      "encoding": {"x": {"field": "x", "type": "quantitative", "scale": {"domain": [0, 4], "nice": false}, "axis": {"values": [0, 1, 2, 3, 4], "title": "Log₁₀ IL-8 (pg/mL)", "titleY": 26, "titleBaseline": "middle"}},
                   "y": {"field": "y", "type": "quantitative", "scale": {"domain": [0, 6], "nice": false, "range": [182, 7]}, "axis": {"values": [0, 2, 4, 6], "title": "Log₁₀ host cfDNA (pg/µl)", "titleX": -25, "titleBaseline": "middle"}}}},
     {"data": {"name": "h1fit"}, "mark": {"type": "line", "color": "#000", "strokeWidth": 1.8}, "encoding": {"x": {"field": "x", "type": "quantitative"}, "y": {"field": "y", "type": "quantitative"}}},
     {"data": {"values": [{}]}, "mark": {"type": "text", "align": "left", "baseline": "alphabetic", "fontSize": 11, "lineHeight": 15}, "encoding": {"x": {"datum": 0.34}, "y": {"datum": 5.62}, "text": {"value": ["rₛ 0.391", "p <0.0001"]}}},
     {"data": {"values": [{}]}, "mark": {"type": "text", "align": "center", "baseline": "middle", "fontSize": 13.5}, "encoding": {"x": {"datum": 2.0}, "y": {"datum": 6.96}, "text": {"value": "Host cfDNA"}}}
    ]
   },
   {
    "width": 151, "height": 183,
    "layer": [
     {"data": {"name": "p1"}, "mark": {"type": "point", "shape": "square", "size": 22, "strokeWidth": 0.8, "color": "#222", "opacity": 1},
      "encoding": {"x": {"field": "x", "type": "quantitative", "scale": {"domain": [0, 4], "nice": false}, "axis": {"values": [0, 1, 2, 3, 4], "title": "Log₁₀ IL-8 (pg/mL)", "titleY": 26, "titleBaseline": "middle"}},
                   "y": {"field": "y", "type": "quantitative", "scale": {"domain": [-2, 6], "nice": false, "range": [183, 2]}, "axis": {"values": [-2, 0, 2, 4, 6], "labelExpr": "datum.value < 0 ? '-' + abs(datum.value) : datum.label", "title": "Log₁₀ parasite cfDNA (pg/µl)", "titleX": -23, "titleBaseline": "middle"}}}},
     {"data": {"name": "p1fit"}, "mark": {"type": "line", "color": "#000", "strokeWidth": 1.8}, "encoding": {"x": {"field": "x", "type": "quantitative"}, "y": {"field": "y", "type": "quantitative"}}},
     {"data": {"values": [{}]}, "mark": {"type": "text", "align": "left", "baseline": "alphabetic", "fontSize": 11, "lineHeight": 15}, "encoding": {"x": {"datum": 0.33}, "y": {"datum": 5.32}, "text": {"value": ["rₛ 0.304", "p 0.001"]}}},
     {"data": {"values": [{}]}, "mark": {"type": "text", "align": "center", "baseline": "middle", "fontSize": 13.5}, "encoding": {"x": {"datum": 2.21}, "y": {"datum": 6.93}, "text": {"value": "Parasite cfDNA"}}}
    ]
   },
   {
    "width": 150, "height": 184,
    "layer": [
     {"data": {"name": "d1"}, "mark": {"type": "point", "shape": "circle", "size": 18, "strokeWidth": 0.8, "color": "#222", "opacity": 1},
      "encoding": {"x": {"field": "x", "type": "quantitative", "scale": {"domain": [4, 7], "nice": false, "zero": false}, "axis": {"values": [4, 4.5, 5, 5.5, 6, 6.5, 7], "labelExpr": "datum.value % 1 == 0 ? datum.label : ''", "title": "Log₁₀ MPO (pg/mL)", "titleY": 25, "titleBaseline": "middle"}},
                   "y": {"field": "y", "type": "quantitative", "scale": {"domain": [0, 2], "nice": false, "range": [184, 4]}, "axis": {"values": [0, 0.5, 1, 1.5, 2], "format": ".1f", "title": "Log₁₀ total cfDNA (ng/µl)", "titleX": -25, "titleBaseline": "middle"}}}},
     {"data": {"name": "d1fit"}, "mark": {"type": "line", "color": "#000", "strokeWidth": 1.8}, "encoding": {"x": {"field": "x", "type": "quantitative"}, "y": {"field": "y", "type": "quantitative"}}},
     {"data": {"values": [{}]}, "mark": {"type": "text", "align": "left", "baseline": "alphabetic", "fontSize": 11, "lineHeight": 15}, "encoding": {"x": {"datum": 4.26}, "y": {"datum": 1.86}, "text": {"value": ["rₛ 0.683", "p <0.0001"]}}},
     {"data": {"values": [{}]}, "mark": {"type": "text", "align": "center", "baseline": "middle", "fontSize": 13.5}, "encoding": {"x": {"datum": 5.46}, "y": {"datum": 2.292}, "text": {"value": "Total cfDNA"}}},
     {"data": {"values": [{}]}, "mark": {"type": "text", "align": "left", "baseline": "alphabetic", "fontSize": 16, "fontWeight": "bold", "color": "#000"}, "encoding": {"x": {"datum": 3.22}, "y": {"datum": 2.311}, "text": {"value": "D"}}}
    ]
   },
   {
    "width": 145, "height": 185,
    "layer": [
     {"data": {"name": "h2"}, "mark": {"type": "point", "shape": "circle", "size": 18, "strokeWidth": 0.8, "color": "#222", "opacity": 1},
      "encoding": {"x": {"field": "x", "type": "quantitative", "scale": {"domain": [4, 7], "nice": false, "zero": false}, "axis": {"values": [4, 4.5, 5, 5.5, 6, 6.5, 7], "labelExpr": "datum.value % 1 == 0 ? datum.label : ''", "title": "Log₁₀ MPO (pg/mL)", "titleY": 25, "titleBaseline": "middle"}},
                   "y": {"field": "y", "type": "quantitative", "scale": {"domain": [0, 6], "nice": false, "range": [185, 12]}, "axis": {"values": [0, 2, 4, 6], "title": "Log₁₀ host cfDNA (pg/µl)", "titleX": -25, "titleBaseline": "middle"}}}},
     {"data": {"name": "h2fit"}, "mark": {"type": "line", "color": "#000", "strokeWidth": 1.8}, "encoding": {"x": {"field": "x", "type": "quantitative"}, "y": {"field": "y", "type": "quantitative"}}},
     {"data": {"values": [{}]}, "mark": {"type": "text", "align": "left", "baseline": "alphabetic", "fontSize": 11, "lineHeight": 15}, "encoding": {"x": {"datum": 4.25}, "y": {"datum": 5.59}, "text": {"value": ["rₛ 0.686", "p <0.0001"]}}},
     {"data": {"values": [{}]}, "mark": {"type": "text", "align": "center", "baseline": "middle", "fontSize": 13.5}, "encoding": {"x": {"datum": 5.376}, "y": {"datum": 7.065}, "text": {"value": "Host cfDNA"}}}
    ]
   },
   {
    "width": 151, "height": 184,
    "layer": [
     {"data": {"name": "p2"}, "mark": {"type": "point", "shape": "square", "size": 22, "strokeWidth": 0.8, "color": "#222", "opacity": 1},
      "encoding": {"x": {"field": "x", "type": "quantitative", "scale": {"domain": [4, 7], "nice": false, "zero": false}, "axis": {"values": [4, 4.5, 5, 5.5, 6, 6.5, 7], "labelExpr": "datum.value % 1 == 0 ? datum.label : ''", "title": "Log₁₀ MPO (pg/mL)", "titleY": 25, "titleBaseline": "middle"}},
                   "y": {"field": "y", "type": "quantitative", "scale": {"domain": [-2, 6], "nice": false, "range": [184, 3]}, "axis": {"values": [-2, 0, 2, 4, 6], "labelExpr": "datum.value < 0 ? '-' + abs(datum.value) : datum.label", "title": "Log₁₀ parasite cfDNA (pg/µl)", "titleX": -25, "titleBaseline": "middle"}}}},
     {"data": {"name": "p2fit"}, "mark": {"type": "line", "color": "#000", "strokeWidth": 1.8}, "encoding": {"x": {"field": "x", "type": "quantitative"}, "y": {"field": "y", "type": "quantitative"}}},
     {"data": {"values": [{}]}, "mark": {"type": "text", "align": "left", "baseline": "alphabetic", "fontSize": 11, "lineHeight": 15}, "encoding": {"x": {"datum": 4.27}, "y": {"datum": 5.41}, "text": {"value": ["rₛ 0.639", "p <0.0001"]}}},
     {"data": {"values": [{}]}, "mark": {"type": "text", "align": "center", "baseline": "middle", "fontSize": 13.5}, "encoding": {"x": {"datum": 5.73}, "y": {"datum": 7.06}, "text": {"value": "Parasite cfDNA"}}}
    ]
   }
  ]
 }
]
}
